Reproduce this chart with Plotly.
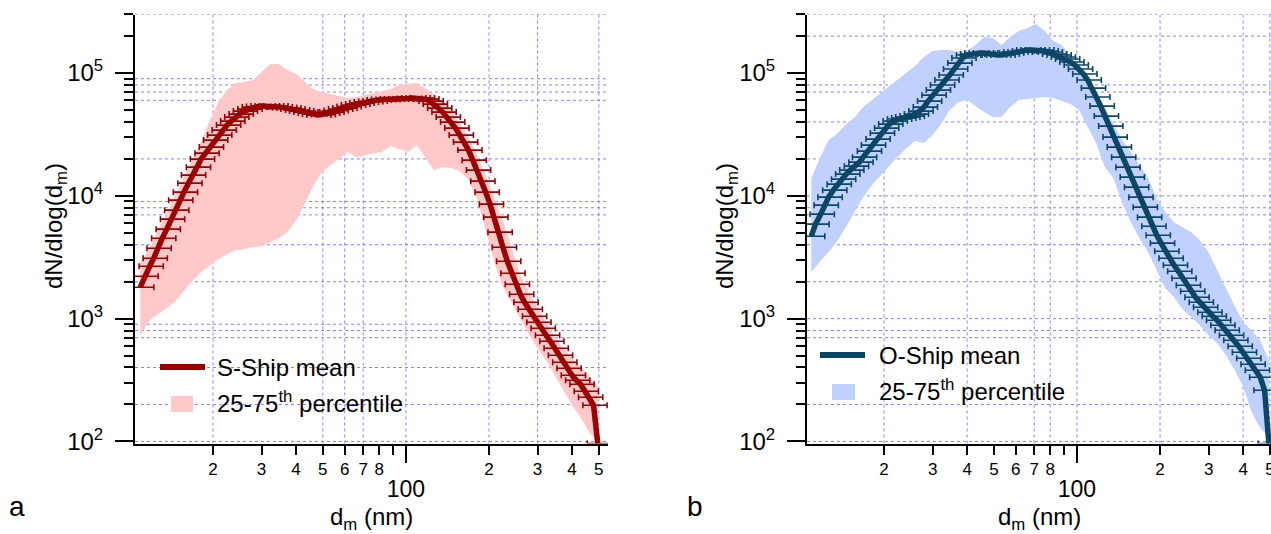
import plotly.graph_objects as go

# ---------------- data ----------------
diam_nm = [10.9, 11.3, 11.8, 12.2, 12.6, 13.1, 13.6, 14.1, 14.6, 15.1,
           15.7, 16.3, 16.8, 17.5, 18.1, 18.8, 19.5, 20.2, 20.9, 21.7,
           22.5, 23.3, 24.1, 25.0, 25.9, 26.9, 27.9, 28.9, 30.0, 31.1,
           32.2, 33.4, 34.6, 35.9, 37.2, 38.5, 40.0, 41.4, 42.9, 44.5,
           46.1, 47.8, 49.6, 51.4, 53.3, 55.2, 57.3, 59.4, 61.5, 63.8,
           66.1, 68.5, 71.0, 73.7, 76.4, 79.1, 82.0, 85.1, 88.2, 91.4,
           94.7, 98.2, 101.8, 105.5, 109.4, 113.4, 117.6, 121.9, 126.3, 131.0,
           135.8, 140.7, 145.9, 151.2, 156.8, 162.5, 168.5, 174.7, 181.1, 187.7,
           194.6, 201.7, 209.1, 216.7, 224.7, 232.9, 241.4, 250.3, 259.5, 269.0,
           278.8, 289.0, 299.6, 310.6, 322.0, 333.8, 346.0, 358.7, 371.8, 385.4,
           399.5, 414.2, 429.4, 445.1, 461.4, 478.3, 495.8]

s_ship_mean = [1803, 2216, 2673, 3106, 3747, 4521, 5353, 6459, 7645, 9224,
               10720, 12690, 14750, 17130, 19920, 22280, 24940, 28440, 31240, 34310,
               37700, 40630, 43800, 46330, 49010, 50880, 52830, 53320, 53830, 53830,
               53830, 53830, 52830, 52330, 51840, 50880, 49930, 49010, 48100, 47210,
               46330, 45470, 45890, 47210, 48100, 49470, 50880, 51840, 53320, 54860,
               55880, 56940, 58020, 58560, 59120, 60250, 60810, 60810, 61380, 61380,
               61380, 61380, 61960, 62540, 62540, 62540, 61380, 59120, 55880, 51840,
               48100, 43800, 39880, 35620, 31240, 27400, 23590, 19540, 16200, 13180,
               10720, 8556, 6706, 5060, 3818, 2937, 2344, 1907, 1581, 1360,
               1193, 1046, 934, 835, 732, 654, 574, 503, 441, 394,
               346, 315, 292, 256, 229, 197, 96]

o_ship_mean = [4694, 5879, 7093, 8400, 9759, 11130, 12450, 13680, 15030, 16200,
               17460, 18820, 20670, 23140, 25890, 28980, 32430, 35620, 38400, 40630,
               42200, 42980, 43800, 44620, 46330, 49010, 52830, 59120, 66170, 72690,
               79840, 87700, 96320, 107800, 120600, 132500, 140200, 142800, 145500, 145500,
               145500, 142800, 140200, 140200, 140200, 142800, 145500, 148300, 148300, 151100,
               153900, 153900, 153900, 153900, 151100, 148300, 142800, 140200, 135000, 130100,
               122900, 116200, 107800, 98130, 87700, 75460, 63750, 53830, 44620, 36980,
               30090, 24940, 20670, 17130, 14210, 11770, 9759, 8090, 6706, 5662,
               4783, 4117, 3542, 3106, 2724, 2434, 2135, 1872, 1672, 1494,
               1360, 1238, 1128, 1046, 970, 884, 804, 732, 667, 596,
               532, 476, 425, 380, 333, 261, 96]

band_diam_nm = [10.9, 11.8, 12.6, 13.6, 14.6, 15.7, 16.8, 18.1, 19.5, 20.9,
                22.5, 24.1, 25.9, 27.9, 30.0, 32.2, 34.6, 37.2, 40.0, 42.9,
                46.1, 49.6, 53.3, 57.3, 61.5, 66.1, 71.0, 76.4, 82.0, 88.2,
                94.7, 101.8, 109.4, 117.6, 126.3, 135.8, 145.9, 156.8, 168.5, 181.1,
                194.6, 209.1, 224.7, 241.4, 259.5, 278.8, 299.6, 322.0, 346.0, 371.8,
                399.5, 429.4, 461.4, 495.8]

s_ship_p75 = [2827, 3747, 5253, 7228, 10130, 14210, 19540, 27400, 41400, 58020,
              72690, 82870, 84440, 87700, 101900, 118400, 118400, 105800, 98130, 86070,
              74070, 70000, 67430, 64930, 62540, 63750, 66170, 68710, 71350, 74070,
              79840, 81350, 82870, 75460, 66170, 58020, 49010, 39130, 30090, 21470,
              14750, 9577, 6220, 3818, 2258, 1641, 1238, 952, 719, 574,
              476, 402, 339, 281]
s_ship_p25 = [732, 970, 1086, 1215, 1386, 1673, 2018, 2388, 2724, 3049,
              3349, 3609, 3677, 3818, 3890, 4195, 4521, 5060, 6338, 8556,
              11990, 15600, 17790, 19920, 22710, 20670, 21470, 22280, 22710, 25410,
              24020, 22710, 25890, 20290, 16200, 17130, 16820, 15900, 13430, 9577,
              5253, 2881, 1803, 1335, 1007, 746, 574, 458, 346, 261,
              197, 157, 119, 98]

o_ship_p75 = [13940, 21060, 28440, 32430, 38400, 43800, 52830, 60250, 68710, 78340,
              87700, 99980, 114000, 135000, 151100, 153900, 153900, 148300, 151100, 169100,
              196500, 192900, 169100, 196500, 219900, 232600, 250700, 219900, 182300, 169100,
              137600, 116200, 94530, 70000, 51840, 37700, 28440, 22710, 17790, 13940,
              9577, 7363, 6105, 5558, 5060, 4355, 3476, 2480, 1769, 1286,
              934, 804, 667, 458]
o_ship_p25 = [2388, 2992, 3476, 4355, 5662, 7503, 9759, 12230, 14750, 17790,
              21060, 24470, 27910, 26890, 31240, 38400, 49930, 58020, 60250, 53830,
              48100, 43800, 43800, 52830, 60250, 61380, 62540, 63750, 62540, 59120,
              55880, 49930, 36290, 26380, 17130, 13940, 8718, 6105, 4521, 3476,
              2480, 1769, 1494, 1193, 1027, 884, 732, 630, 503, 387,
              281, 173, 128, 108]

x_tick_vals = [20, 30, 40, 50, 60, 70, 80, 90, 100, 200, 300, 400, 500]
x_tick_text = ["2", "3", "4", "5", "6", "7", "8", "",
               "<br><span style='font-size:23px'>100</span>", "2", "3", "4", "5"]
y_major_vals = [1e2, 1e3, 1e4, 1e5]
y_major_text = ["10<sup>2</sup>", "10<sup>3</sup>", "10<sup>4</sup>", "10<sup>5</sup>"]
y_minor_vals = [m * 10 ** e for e in (2, 3, 4) for m in range(2, 10)] + [2e5, 3e5]

grid_x_a = [20, 50, 60, 70, 100, 200, 300, 500]
grid_y_a = [100, 200, 400, 700, 800, 900, 2000, 4000, 7000, 8000, 9000, 20000,
            60000, 70000, 80000, 90000, 300000]
grid_x_b = [20, 40, 70, 80, 100, 200, 400, 500]
grid_y_b = [100, 200, 700, 800, 1000, 2000, 4000, 7000, 8000, 10000, 20000,
            40000, 70000, 80000, 200000, 300000]

# ---------------- style ----------------
FONT = "Arial, Liberation Sans, sans-serif"
W, H = 1271, 534
XR_A = [1.0184, 2.7322]
XR_B = [1.022, 2.703]
YR = [1.983, 5.477]
S_LINE = "#990000"
S_FILL = "#ffc9c9"
O_LINE = "#0b4664"
O_FILL = "#c0d0ff"
GRID = "rgba(100,100,255,0.8)"

fig = go.Figure()


def add_grid(xs, ys, xr, xa, ya):
    gx, gy = [], []
    for v in xs:
        gx += [v, v, None]
        gy += [10 ** YR[0], 10 ** YR[1], None]
    for v in ys:
        gx += [10 ** xr[0], 10 ** xr[1], None]
        gy += [v, v, None]
    fig.add_trace(go.Scatter(x=gx, y=gy, mode="lines", xaxis=xa, yaxis=ya,
                             line=dict(color=GRID, width=1, dash="dot"),
                             hoverinfo="skip", showlegend=False))


def add_panel(mean, p25, p75, line_c, fill_c, xa, ya):
    fig.add_trace(go.Scatter(x=band_diam_nm, y=p25, mode="lines", xaxis=xa, yaxis=ya,
                             line=dict(width=0, color=fill_c), showlegend=False,
                             hoverinfo="skip"))
    fig.add_trace(go.Scatter(x=band_diam_nm, y=p75, mode="lines", xaxis=xa, yaxis=ya,
                             line=dict(width=0, color=fill_c), fill="tonexty",
                             fillcolor=fill_c, showlegend=False, hoverinfo="skip"))
    fig.add_trace(go.Scatter(x=diam_nm, y=mean, mode="markers", xaxis=xa, yaxis=ya,
                             marker=dict(size=1, color="rgba(0,0,0,0)"),
                             error_x=dict(type="percent", symmetric=False, value=12,
                                          valueminus=8.5, color=line_c, thickness=1.6,
                                          width=3),
                             showlegend=False, hoverinfo="skip"))
    fig.add_trace(go.Scatter(x=diam_nm, y=mean, mode="lines", xaxis=xa, yaxis=ya,
                             line=dict(color=line_c, width=5.5), showlegend=False))


add_grid(grid_x_a, grid_y_a, XR_A, "x", "y")
add_grid(grid_x_b, grid_y_b, XR_B, "x2", "y2")
add_panel(s_ship_mean, s_ship_p25, s_ship_p75, S_LINE, S_FILL, "x", "y")
add_panel(o_ship_mean, o_ship_p25, o_ship_p75, O_LINE, O_FILL, "x2", "y2")

ydom = [1 - 443.5 / H, 1 - 14.5 / H]
xaxis_common = dict(type="log", showline=True, linecolor="black", linewidth=2,
                    ticks="outside", ticklen=9, tickwidth=1.5, tickcolor="black",
                    tickmode="array", tickvals=x_tick_vals, ticktext=x_tick_text,
                    tickfont=dict(size=17, family=FONT, color="black"),
                    showgrid=False, zeroline=False, automargin=False,
                    ticklabeloverflow="allow",
                    minor=dict(tickmode="array", tickvals=[100], ticks="outside",
                               ticklen=17, tickwidth=1.5, tickcolor="black", showgrid=False))
yaxis_common = dict(type="log", showline=True, linecolor="black", linewidth=2,
                    ticks="outside", ticklen=18, tickwidth=1.5, tickcolor="black",
                    tickmode="array", tickvals=y_major_vals, ticktext=y_major_text,
                    tickfont=dict(size=24, family=FONT, color="black"),
                    range=YR, domain=ydom, showgrid=False, zeroline=False,
                    ticklabelstandoff=7, automargin=False, ticklabeloverflow="allow",
                    minor=dict(tickmode="array", tickvals=y_minor_vals, ticks="outside",
                               ticklen=9, tickwidth=1.5, tickcolor="black", showgrid=False))

fig.update_layout(
    width=W, height=H, margin=dict(l=0, r=0, t=0, b=0, autoexpand=False),
    paper_bgcolor="white", plot_bgcolor="white",
    font=dict(family=FONT, color="black"),
    xaxis=dict(xaxis_common, domain=[135 / W, 608 / W], range=XR_A, anchor="y"),
    yaxis=dict(yaxis_common, anchor="x"),
    xaxis2=dict(xaxis_common, domain=[807 / W, 1.0], range=XR_B, anchor="y2"),
    yaxis2=dict(yaxis_common, anchor="x2"),
    showlegend=False,
)

ann = []
shapes = []
for (ytx, xtc, lab, lx) in [(56, 371.5, "a", 17), (727, 1039, "b", 695)]:
    ann.append(dict(text="dN/dlog(d<sub>m</sub>)", x=ytx / W, y=1 - 226 / H, xref="paper",
                    yref="paper", showarrow=False, textangle=-90,
                    xanchor="center", yanchor="middle",
                    font=dict(size=24, family=FONT, color="black")))
    ann.append(dict(text="d<sub>m</sub> (nm)", x=xtc / W, y=1 - 518 / H, xref="paper",
                    yref="paper", showarrow=False, xanchor="center", yanchor="middle",
                    font=dict(size=24, family=FONT, color="black")))
    ann.append(dict(text=lab, x=lx / W, y=1 - 506 / H, xref="paper", yref="paper",
                    showarrow=False, xanchor="center", yanchor="middle",
                    font=dict(size=28, family=FONT, color="black")))

# legends
for (lx0, lx1, sq0, sq1, tx, yl, yp, name, lc, fc) in [
        (160, 205, 171, 193, 215, 367, 404, "S-Ship mean", S_LINE, S_FILL),
        (820, 865, 832, 855, 877, 355, 392, "O-Ship mean", O_LINE, O_FILL)]:
    shapes.append(dict(type="line", xref="paper", yref="paper", x0=lx0 / W, x1=lx1 / W,
                       y0=1 - yl / H, y1=1 - yl / H, line=dict(color=lc, width=6)))
    shapes.append(dict(type="rect", xref="paper", yref="paper", x0=sq0 / W, x1=sq1 / W,
                       y0=1 - (yp + 8) / H, y1=1 - (yp - 8) / H, fillcolor=fc,
                       line=dict(width=0)))
    ann.append(dict(text=name, x=tx / W, y=1 - yl / H, xref="paper", yref="paper",
                    xanchor="left", yanchor="middle", showarrow=False,
                    font=dict(size=24, family=FONT, color="black")))
    ann.append(dict(text="25-75<sup>th</sup> percentile", x=tx / W, y=1 - (yp + 15) / H,
                    xref="paper", yref="paper", xanchor="left", yanchor="bottom",
                    showarrow=False, font=dict(size=24, family=FONT, color="black")))

fig.update_layout(annotations=ann, shapes=shapes)
fig.write_html("out.html", config={"displayModeBar": False},
               post_script="document.body.style.margin='0px';"
                           "document.body.style.overflow='hidden';")
